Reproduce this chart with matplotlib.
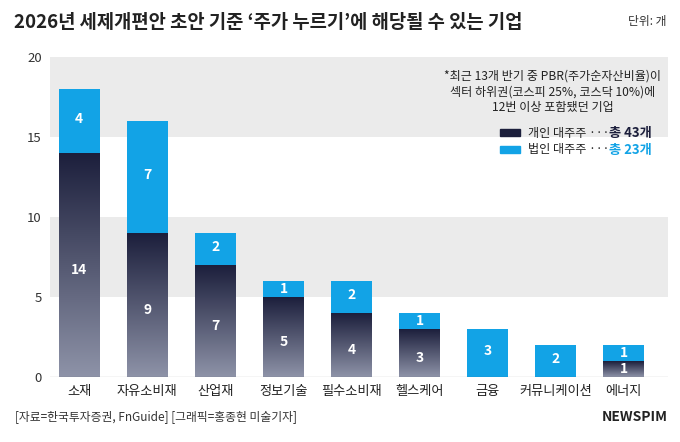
import matplotlib
matplotlib.use("Agg")
import matplotlib.pyplot as plt
import numpy as np
from matplotlib.colors import LinearSegmentedColormap
from matplotlib.patches import Rectangle

plt.rcParams['font.family'] = ['Noto Sans CJK KR', 'DejaVu Sans']

categories = ['소재', '자유소비재', '산업재', '정보기술', '필수소비재', '헬스케어', '금융', '커뮤니케이션', '에너지']
individual = [14, 9, 7, 5, 4, 3, 0, 0, 1]
corporate = [4, 7, 2, 1, 2, 1, 3, 2, 1]
yticks = [0, 5, 10, 15, 20]

W, H = 680, 442
fig = plt.figure(figsize=(W/100, H/100), dpi=100)
ax = fig.add_axes([50/W, 1-377/H, 618/W, 320/H])
ax.set_xlim(-0.43, 8.65)
ax.set_ylim(0, 20)
for lo, hi in [(5, 10), (15, 20)]:
    ax.axhspan(lo, hi, color='#ebebeb', zorder=0, lw=0)

cmap = LinearSegmentedColormap.from_list('g', ['#8e93a8', '#1c1f3c'])
bw = 0.6
light = '#12a3e6'
for i, (a, b) in enumerate(zip(individual, corporate)):
    if a > 0:
        rect = Rectangle((i-bw/2, 0), bw, a, facecolor='none', edgecolor='none', zorder=2)
        ax.add_patch(rect)
        grad = np.linspace(0, 1, 256).reshape(-1, 1)
        im = ax.imshow(grad, extent=(i-bw/2, i+bw/2, 0, a), origin='lower', cmap=cmap,
                       vmin=-0.0, vmax=1.0, aspect='auto', zorder=2)
        im.set_clip_path(rect)
        ax.text(i, a/2 - 0.3 if a > 2 else a/2, str(a), ha='center', va='center', color='white',
                fontsize=10, fontweight='bold', zorder=4)
    ax.bar(i, b, bottom=a, width=bw, color=light, zorder=2)
    ax.text(i, a + b/2 + (0.15 if b > 1 else 0), str(b), ha='center', va='center', color='white',
            fontsize=10, fontweight='bold', zorder=4)
ax.set_xlim(-0.43, 8.65)
ax.set_ylim(0, 20)

ax.set_xticks(range(len(categories)))
ax.set_xticklabels(categories, fontsize=9.5, color='#222222')
ax.set_yticks(yticks)
ax.set_yticklabels([str(t) for t in yticks], fontsize=9.5, color='#333333')
ax.tick_params(length=0, pad=6)
for s in ax.spines.values():
    s.set_visible(False)
ax.axhline(0, color='#555555', lw=0.8, zorder=3)

fig.text(14/W, 1-22/H, "2026년 세제개편안 초안 기준 ‘주가 누르기’에 해당될 수 있는 기업",
         fontsize=13.5, fontweight='bold', color='#222222', va='center')
fig.text(666/W, 1-22/H, "단위: 개", fontsize=8.5, color='#333333', va='center', ha='right')
fig.text(553/W, 1-92/H, "*최근 13개 반기 중 PBR(주가순자산비율)이\n섹터 하위권(코스피 25%, 코스닥 10%)에\n12번 이상 포함됐던 기업",
         fontsize=8.7, color='#222222', va='center', ha='center', linespacing=1.3)
# legend
fig.patches.append(Rectangle((500/W, 1-136/H), 20/W, 7/H, transform=fig.transFigure, color='#1c1f3c'))
fig.patches.append(Rectangle((500/W, 1-153/H), 20/W, 7/H, transform=fig.transFigure, color=light))
fig.text(528/W, 1-133/H, "개인 대주주 ···", fontsize=8.7, color='#222222', va='center')
fig.text(609/W, 1-133/H, "총 43개", fontsize=9.5, fontweight='bold', color='#1c1f3c', va='center')
fig.text(528/W, 1-150/H, "법인 대주주 ···", fontsize=8.7, color='#222222', va='center')
fig.text(609/W, 1-150/H, "총 23개", fontsize=9.5, fontweight='bold', color=light, va='center')

fig.text(15/W, 1-417/H, "[자료=한국투자증권, FnGuide] [그래픽=홍종현 미술기자]", fontsize=8.5, color='#333333', va='center')
fig.text(668/W, 1-417/H, "NEWSPIM", fontsize=10, fontweight='bold', color='#222222', va='center', ha='right')

fig.savefig('out.png', dpi=100)
